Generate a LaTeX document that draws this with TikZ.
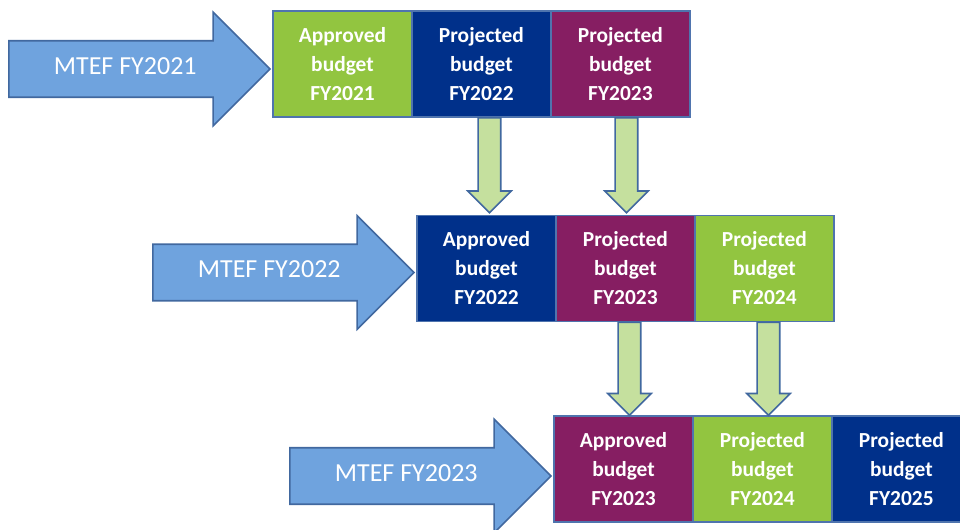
\documentclass[tikz,border=0pt]{standalone}
\usepackage{fontspec}
\setmainfont{Carlito}
\usetikzlibrary{shapes.arrows,positioning,calc}
\definecolor{budgetgreen}{HTML}{92C540}
\definecolor{budgetnavy}{HTML}{00308A}
\definecolor{budgetplum}{HTML}{861E62}
\definecolor{mtefblue}{HTML}{6FA3DE}
\definecolor{mtefedge}{HTML}{41689F}
\definecolor{boxedge}{HTML}{4F74AE}
\definecolor{carryfill}{HTML}{C5E09E}

\begin{document}
\begin{tikzpicture}[
    x=0.02cm, y=-0.02cm,
    budget/.style={draw=boxedge, line width=0.9pt, outer sep=0pt, minimum width=2.78cm, minimum height=2.12cm, inner sep=0pt, align=center, text=white, font=\fontsize{12.2}{16.5}\selectfont\bfseries},
    mtef/.style={single arrow, single arrow head extend=0.57cm, minimum height=5.22cm, inner xsep=0pt, inner ysep=0.34cm, text height=0.32cm, text depth=0.1cm, fill=mtefblue, draw=mtefedge, line width=0.9pt, text=white, font=\fontsize{14.8}{17}\selectfont, anchor=tip},
    carry/.style={single arrow, shape border rotate=270, single arrow head extend=0.21cm, minimum height=1.9cm, inner sep=0.21cm, fill=carryfill, draw=mtefedge, line width=0.9pt, anchor=tail}
]
    \useasboundingbox (0,0) rectangle (960,530);

    % --- MTEF FY2021 ---
    \node[budget, fill=budgetgreen] (a21) at (342.5, 64) {Approved\\budget\\FY2021};
    \node[budget, fill=budgetnavy, right=0pt of a21] (p22a) {Projected\\budget\\FY2022};
    \node[budget, fill=budgetplum, right=0pt of p22a] (p23a) {Projected\\budget\\FY2023};
    \node[mtef] (m21) at ($(a21.west)+(-2,5)$) {MTEF FY2021};

    % --- MTEF FY2022 ---
    \node[budget, fill=budgetnavy] (a22) at (486.5, 268.5) {Approved\\budget\\FY2022};
    \node[budget, fill=budgetplum, right=0pt of a22] (p23b) {Projected\\budget\\FY2023};
    \node[budget, fill=budgetgreen, right=0pt of p23b] (p24b) {Projected\\budget\\FY2024};
    \node[mtef] (m22) at ($(a22.west)+(-2,4)$) {MTEF FY2022};

    % --- MTEF FY2023 ---
    \node[budget, fill=budgetplum] (a23) at (623.5, 469) {Approved\\budget\\FY2023};
    \node[budget, fill=budgetgreen, right=0pt of a23] (p24c) {Projected\\budget\\FY2024};
    \node[budget, fill=budgetnavy, right=0pt of p24c] (p25c) {Projected\\budget\\FY2025};
    \node[mtef] (m23) at ($(a23.west)+(-2,7)$) {MTEF FY2023};

    % Carry-over arrows
    \node[carry] (c1) at ($(p22a.south)+(8,0)$) {};
    \node[carry] (c2) at ($(p23a.south)+(6,0)$) {};
    \node[carry, minimum height=1.86cm] (c3) at ($(p23b.south)+(4,0)$) {};
    \node[carry, minimum height=1.86cm] (c4) at ($(p24b.south)+(4,0)$) {};

\end{tikzpicture}
\end{document}
